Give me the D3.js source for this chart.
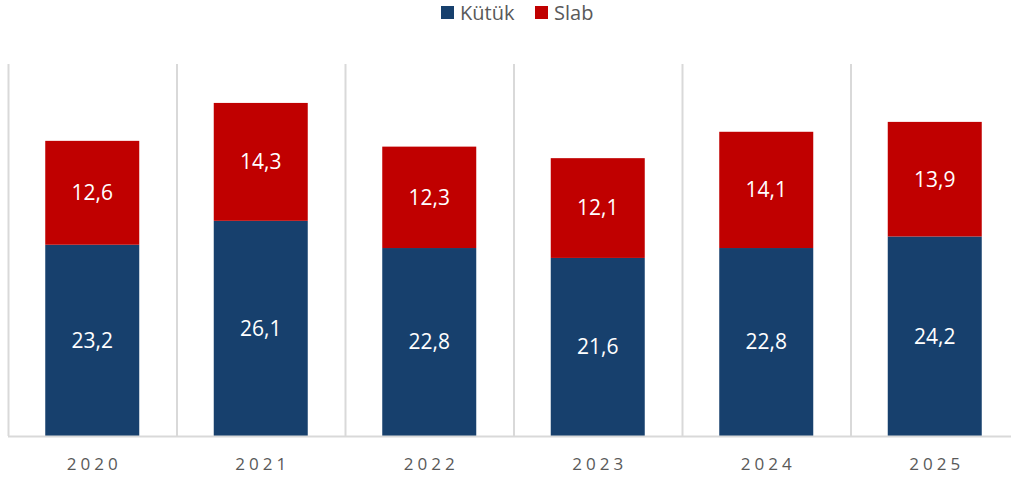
<!DOCTYPE html>
<html>
<head>
<meta charset="utf-8">
<script src="https://cdn.jsdelivr.net/npm/d3@7"></script>
<style>
  body { margin: 0; background: #fff; }
  text { font-family: "Open Sans", "Liberation Sans", sans-serif; }
</style>
</head>
<body>
<div id="vis"></div>
<script>
const years = ["2020", "2021", "2022", "2023", "2024", "2025"]
const kutuk = [23.2, 26.1, 22.8, 21.6, 22.8, 24.2]
const slab = [12.6, 14.3, 12.3, 12.1, 14.1, 13.9]
const seriesNames = ["Kütük", "Slab"]
const colors = ["#17406D", "#C00000"]

const W = 1011, H = 480
const plot = {left: 8, right: 1019, top: 64, bottom: 436}

const svg = d3.select('#vis')
    .append('svg')
    .attr('width', W)
    .attr('height', H)

const xScale = d3.scaleBand()
    .domain(years)
    .range([plot.left, plot.right])
    .paddingInner(0)
    .paddingOuter(0)

const yScale = d3.scaleLinear()
    .domain([0, 45])
    .range([plot.bottom, plot.top + 1])

const barW = 94

// vertical grid lines between categories
const gridX = years.map(y => xScale(y))
svg.append("g")
    .selectAll("line")
    .data(gridX)
    .join("line")
    .attr("x1", d => d + 0.5)
    .attr("x2", d => d + 0.5)
    .attr("y1", plot.top)
    .attr("y2", plot.bottom)
    .attr("stroke", "#d9d9d9")
    .attr("stroke-width", 2)

// stacked data
const rows = years.map((y, i) => ({year: y, "Kütük": kutuk[i], "Slab": slab[i]}))
const stacked = d3.stack().keys(seriesNames)(rows)

const layer = svg.selectAll(".layer")
    .data(stacked)
    .join("g")
    .attr("class", "layer")
    .attr("fill", (d, i) => colors[i])

layer.selectAll("rect")
    .data(d => d)
    .join("rect")
    .attr("x", d => xScale(d.data.year) + xScale.bandwidth() / 2 - barW / 2)
    .attr("width", barW)
    .attr("y", d => yScale(d[1]))
    .attr("height", d => yScale(d[0]) - yScale(d[1]))

layer.selectAll("text")
    .data((d) => d.map(v => ({v, key: d.key})))
    .join("text")
    .attr("x", d => xScale(d.v.data.year) + xScale.bandwidth() / 2)
    .attr("y", d => (yScale(d.v[0]) + yScale(d.v[1])) / 2)
    .attr("dy", "0.35em")
    .attr("text-anchor", "middle")
    .attr("fill", "#fff")
    .style("font-size", "21px")
    .text(d => d3.format(".1f")(d.v.data[d.key]).replace(".", ","))

// baseline axis
const xAxis = svg.append("g")
    .attr("transform", `translate(0,${plot.bottom})`)
    .call(d3.axisBottom(xScale).tickSize(0).tickPadding(22))
xAxis.select(".domain").attr("stroke", "#d9d9d9").attr("stroke-width", 2)
    .attr("d", `M${plot.left},0.5H${W}`)
xAxis.selectAll("text")
    .style("font-size", "17px")
    .style("letter-spacing", "4px")
    .attr("dx", "2px")
    .attr("fill", "#595959")
    .attr("font-family", null)

// legend
const legend = svg.append("g")
    .attr("transform", "translate(441,6)")
const legX = [0, 94]
const item = legend.selectAll("g")
    .data(seriesNames)
    .join("g")
    .attr("transform", (d, i) => `translate(${legX[i]},0)`)
item.append("rect")
    .attr("width", 13)
    .attr("height", 13)
    .attr("fill", (d, i) => colors[i])
item.append("text")
    .attr("x", 19)
    .attr("y", 7)
    .attr("dy", "0.35em")
    .attr("fill", "#595959")
    .style("font-size", "20px")
    .text(d => d)
</script>
</body>
</html>
